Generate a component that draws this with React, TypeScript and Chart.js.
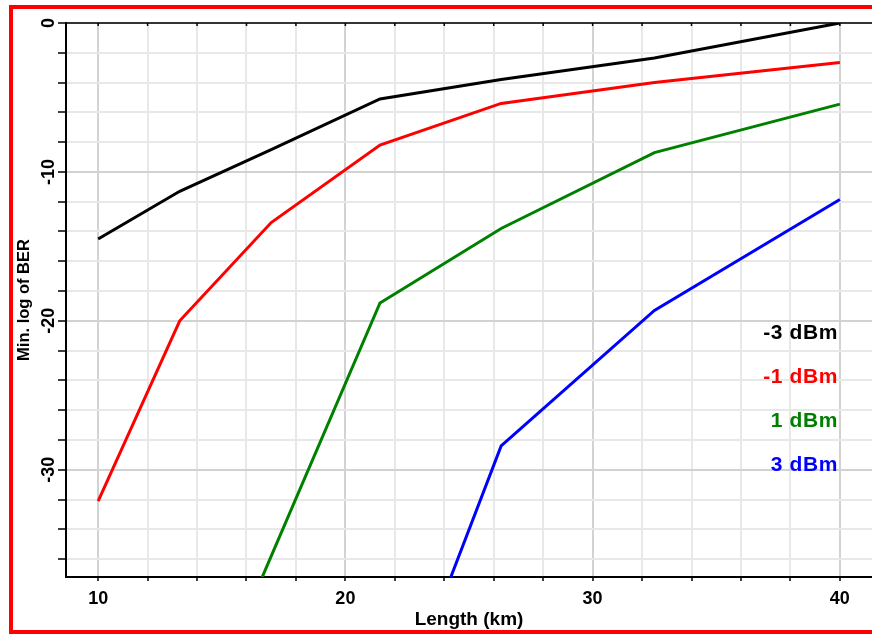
import React, { useEffect, useRef } from 'react';
import { Chart, registerables } from 'chart.js';

Chart.register(...registerables);

// Fiber length (km)
const lengthsKm = [10, 13.3, 17, 21.4, 26.3, 32.5, 40];
// Min. log of BER per launch power
const berMinus3dBm = [-14.5, -11.3, -8.5, -5.1, -3.8, -2.35, 0];
const berMinus1dBm = [-32.1, -20.0, -13.4, -8.2, -5.4, -4.0, -2.65];
const berPlus1dBm = [null, -50.1, -35.8, -18.8, -13.8, -8.7, -5.45];
const berPlus3dBm = [null, null, null, -49.6, -28.4, -19.3, -11.85];

const seriesNames = ['-3 dBm', '-1 dBm', '1 dBm', '3 dBm'];
const seriesColors = ['#000000', '#ff0000', '#008000', '#0000ff'];
const seriesValues = [berMinus3dBm, berMinus1dBm, berPlus1dBm, berPlus3dBm];

const xLabeledTicks = [10, 20, 30, 40];
const yLabeledTicks = [0, -10, -20, -30];

const FONT = '"Liberation Sans", Arial, sans-serif';

const decorPlugin = {
  id: 'decor',
  beforeDatasetsDraw(chart: any) {
    const { ctx, chartArea: a, scales } = chart;
    const x = scales.x;
    ctx.save();
    ctx.strokeStyle = '#000';
    ctx.lineWidth = 1.5;
    ctx.beginPath();
    ctx.moveTo(a.left, a.top);
    ctx.lineTo(a.right, a.top);
    for (let v = 10; v <= 40; v += 2) {
      const px = x.getPixelForValue(v);
      ctx.moveTo(px, a.top);
      ctx.lineTo(px, a.top + 3);
    }
    ctx.stroke();
    ctx.restore();
  },
  afterDatasetsDraw(chart: any) {
    const { ctx, chartArea: a } = chart;
    ctx.save();
    ctx.font = `bold 21px ${FONT}`;
    ctx.textAlign = 'right';
    ctx.textBaseline = 'middle';
    (ctx as any).letterSpacing = '0.6px';
    seriesNames.forEach((n, i) => {
      ctx.fillStyle = seriesColors[i];
      ctx.fillText(n, a.right - 34, a.top + 310 + i * 44);
    });
    ctx.restore();
  },
};

export default function App() {
  const ref = useRef<HTMLCanvasElement | null>(null);

  useEffect(() => {
    if (!ref.current) return;
    const isMajor = (v: number, list: number[]) => list.some((t) => Math.abs(t - v) < 1e-6);
    const chart = new Chart(ref.current, {
      type: 'line',
      data: {
        datasets: seriesValues.map((vals, i) => ({
          label: seriesNames[i],
          data: lengthsKm.map((x, j) => ({ x, y: vals[j] })),
          borderColor: seriesColors[i],
          backgroundColor: seriesColors[i],
          borderWidth: 3,
          pointRadius: 0,
          tension: 0,
          fill: false,
          spanGaps: false,
          clip: 0,
        })) as any,
      },
      options: {
        animation: false,
        responsive: false,
        devicePixelRatio: 1,
        layout: { padding: { top: 23, right: 0, bottom: 0, left: 0 } },
        plugins: {
          legend: { display: false },
          tooltip: { enabled: false },
        },
        scales: {
          x: {
            type: 'linear',
            min: 8.7,
            max: 41.3,
            border: { display: true, color: '#000', width: 2 },
            grid: {
              color: (c: any) => (isMajor(c.tick?.value, xLabeledTicks) ? '#d2d2d2' : '#e8e8e8'),
              lineWidth: 2,
              tickLength: 4,
              tickColor: '#000',
              tickWidth: 1.5,
            },
            ticks: {
              stepSize: 2,
              includeBounds: false,
              autoSkip: false,
              maxRotation: 0,
              padding: 7,
              color: '#000',
              font: { family: FONT, size: 18, weight: 'bold' },
              callback: (v: any) => (isMajor(Number(v), xLabeledTicks) ? String(v) : ''),
            },
            title: {
              display: true,
              text: 'Length (km)',
              color: '#000',
              font: { family: FONT, size: 19, weight: 'bold' },
              padding: { top: 0, bottom: 3 },
            },
            afterFit: (s: any) => {
              s.height = 57;
              s.paddingLeft = 0;
              s.paddingRight = 0;
            },
          },
          y: {
            type: 'linear',
            min: -37.2,
            max: 0,
            border: { display: true, color: '#000', width: 2 },
            grid: {
              color: (c: any) => (isMajor(c.tick?.value, yLabeledTicks) ? '#d2d2d2' : '#e8e8e8'),
              lineWidth: 2,
              tickLength: 8,
              tickColor: '#000',
              tickWidth: 1.5,
            },
            ticks: {
              stepSize: 2,
              includeBounds: false,
              autoSkip: false,
              minRotation: 90,
              maxRotation: 90,
              crossAlign: 'center',
              padding: -4,
              color: '#000',
              font: { family: FONT, size: 18, weight: 'bold' },
              callback: (v: any) => (isMajor(Number(v), yLabeledTicks) ? String(v) : ''),
            },
            title: {
              display: true,
              text: 'Min. log of BER',
              color: '#000',
              font: { family: FONT, size: 16.5, weight: 'bold' },
              padding: { top: 15, bottom: 0 },
            },
            afterFit: (s: any) => {
              s.width = 66;
              s.paddingTop = 0;
              s.paddingBottom = 0;
            },
          },
        },
      } as any,
      plugins: [decorPlugin],
    });
    return () => chart.destroy();
  }, []);

  return (
    <div style={{ position: 'absolute', left: 0, top: 0, width: 872, height: 634, overflow: 'hidden', background: '#fff' }}>
      <div
        style={{
          position: 'absolute',
          left: 9,
          top: 5,
          width: 900,
          height: 629,
          boxSizing: 'border-box',
          border: '4px solid #ff0000',
        }}
      />
      <canvas ref={ref} width={872} height={634} style={{ position: 'absolute', left: 0, top: 0, width: 872, height: 634 }} />
    </div>
  );
}
